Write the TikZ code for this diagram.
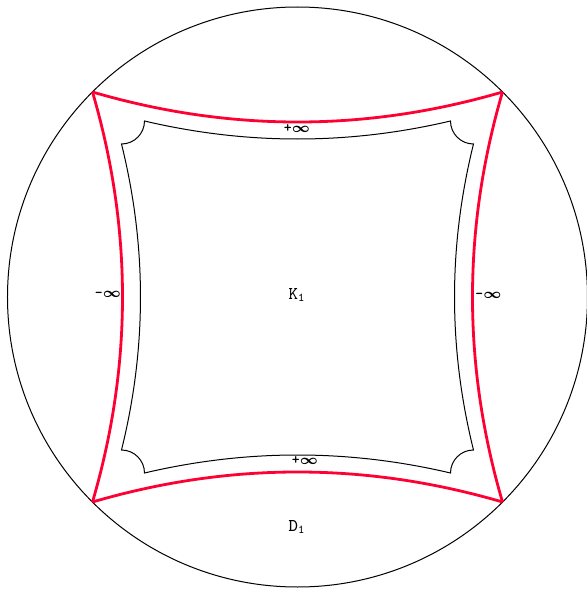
\documentclass[tikz,border=0pt]{standalone}
\usepackage{fontspec}
\usetikzlibrary{positioning}
\definecolor{edgered}{RGB}{255,0,51}

\begin{document}
\begin{tikzpicture}[x=0.5pt, y=0.5pt, font=\ttfamily\fontsize{9}{10}\selectfont,
        Red Edge/.style={draw=edgered, line width=1.4pt},
        Infinity/.style={font=\ttfamily\fontsize{7.5}{8}\selectfont\bfseries\boldmath, inner sep=1pt}]
                \useasboundingbox (-297.5,-293) rectangle (289.5,297);
                \draw[line width=0.5pt] (0,0) circle (290);

                \coordinate (Top Left) at (-205,205);
                \coordinate (Top Right) at (205,205);
                \coordinate (Bottom Left) at (-205,-205);
                \coordinate (Bottom Right) at (205,-205);

                \draw[Red Edge] (Top Left) .. controls (-68.3,165) and (68.3,165) .. (Top Right);
                \draw[Red Edge] (Top Right) .. controls (165,68.3) and (165,-68.3) .. (Bottom Right);
                \draw[Red Edge] (Bottom Right) .. controls (68.3,-165) and (-68.3,-165) .. (Bottom Left);
                \draw[Red Edge] (Bottom Left) .. controls (-165,-68.3) and (-165,68.3) .. (Top Left);

                \draw[line width=0.5pt] (-153,176) .. controls (-51,152) and (51,152) .. (153,176)
                    arc (180:270:23) .. controls (150.7,51) and (150.7,-51) .. (176,-153)
                    arc (90:180:23) .. controls (51,-152) and (-51,-152) .. (-153,-176)
                    arc (0:90:23) .. controls (-150.7,-51) and (-150.7,51) .. (-176,153)
                    arc (-90:0:23) -- cycle;

                \node[Infinity] (Plus Infinity Top) at (-0.5,168) {+$\infty$};
                \node[Infinity] (Plus Infinity Bottom) at (7.5,-163) {+$\infty$};
                \node[Infinity] (Minus Infinity Left) at (-189.5,3) {-$\infty$};
                \node[Infinity] (Minus Infinity Right) at (191,2) {-$\infty$};
                \node (K1) at (-0.5,2) {K\textsubscript{1}};
                \node (D1) at (-0.5,-230) {D\textsubscript{1}};

            \end{tikzpicture}
\end{document}
